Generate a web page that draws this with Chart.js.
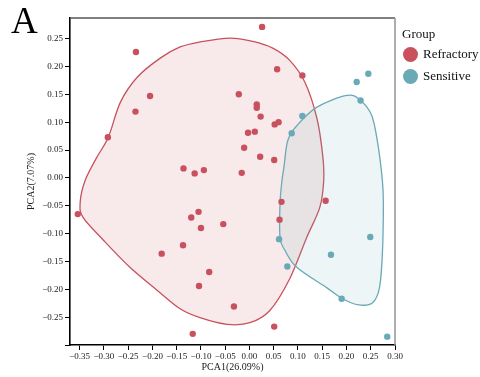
<!DOCTYPE html>
<html lang="en">
<head>
<meta charset="UTF-8">
<title>PCA</title>
<script src="https://cdn.jsdelivr.net/npm/chart.js"></script>
<style>
    body { margin: 0; padding: 0; background: #fff; font-family: "Liberation Serif", serif; }
    #wrap { position: relative; width: 480px; height: 377px; }
    canvas { position: absolute; left: 0; top: 0; }
    #panel { position: absolute; left: 11px; top: -1px; font-size: 37px; color: #000; }
    #legend { position: absolute; left: 402px; top: 26px; font-size: 13px; color: #111; }
    #legend .row { display: flex; align-items: center; height: 22px; }
    #legend .dot { width: 15px; height: 15px; border-radius: 50%; margin-right: 5px; margin-left: 1px; }
</style>
</head>
<body>
<div id="wrap">
    <canvas id="pca" width="480" height="377"></canvas>
    <div id="panel">A</div>
    <div id="legend">
        <div style="margin-bottom:1px">Group</div>
        <div class="row"><span class="dot" style="background:#C8515D"></span>Refractory</div>
        <div class="row"><span class="dot" style="background:#6AAAB7"></span>Sensitive</div>
    </div>
</div>
<script>
    // sample scores
    const refractoryX = [-0.234, -0.205, -0.235, -0.292, 0.026, 0.057, -0.022, 0.015, 0.015, 0.023, 0.052, 0.060,
        -0.003, 0.011, -0.011, 0.022, 0.051, -0.136, -0.113, -0.094, -0.016, 0.109, -0.354, -0.181,
        -0.105, -0.120, -0.100, -0.054, -0.137, -0.083, -0.104, -0.032, -0.117, 0.051, 0.066, 0.062, 0.157];
    const refractoryY = [0.226, 0.147, 0.119, 0.073, 0.271, 0.195, 0.150, 0.132, 0.126, 0.110, 0.096, 0.100,
        0.081, 0.083, 0.054, 0.038, 0.032, 0.017, 0.008, 0.014, 0.009, 0.184, -0.065, -0.136,
        -0.061, -0.071, -0.090, -0.083, -0.121, -0.169, -0.194, -0.231, -0.280, -0.267, -0.043, -0.075, -0.041];
    const sensitiveX = [0.221, 0.245, 0.229, 0.109, 0.087, 0.061, 0.078, 0.249, 0.168, 0.190, 0.284];
    const sensitiveY = [0.172, 0.187, 0.139, 0.111, 0.080, -0.110, -0.159, -0.106, -0.138, -0.217, -0.285];

    // hull outlines (data units)
    const refractoryHullX = [-0.040, 0.007, 0.048, 0.083, 0.114, 0.139, 0.151, 0.153, 0.145, 0.118, 0.083, 0.042,
        0.001, -0.046, -0.102, -0.143, -0.190, -0.246, -0.301, -0.343, -0.349, -0.339, -0.316, -0.291,
        -0.266, -0.231, -0.184, -0.143, -0.102];
    const refractoryHullY = [0.251, 0.245, 0.233, 0.211, 0.172, 0.107, 0.040, -0.005, -0.053, -0.107, -0.181, -0.238,
        -0.260, -0.263, -0.251, -0.235, -0.202, -0.161, -0.112, -0.071, -0.044, -0.005, 0.035, 0.073,
        0.136, 0.181, 0.215, 0.235, 0.244];
    const sensitiveHullX = [0.201, 0.229, 0.252, 0.264, 0.274, 0.276, 0.274, 0.268, 0.254, 0.225, 0.192, 0.159,
        0.098, 0.073, 0.063, 0.063, 0.067, 0.071, 0.079, 0.098, 0.139];
    const sensitiveHullY = [0.148, 0.139, 0.112, 0.064, -0.005, -0.046, -0.136, -0.197, -0.224, -0.228, -0.217, -0.197,
        -0.161, -0.130, -0.107, -0.046, -0.005, 0.019, 0.067, 0.094, 0.127];

    const xTicks = [-0.35, -0.30, -0.25, -0.20, -0.15, -0.10, -0.05, 0.00, 0.05, 0.10, 0.15, 0.20, 0.25, 0.30];
    const yTicks = [-0.30, -0.25, -0.20, -0.15, -0.10, -0.05, 0.00, 0.05, 0.10, 0.15, 0.20, 0.25];

    const RED = '#C8515D';
    const TEAL = '#6AAAB7';

    const toPoints = (xs, ys) => xs.map((x, i) => ({ x: x, y: ys[i] }));
    const fmt = v => (v < 0 ? '\u2212' : '') + Math.abs(v).toFixed(2);

    const hulls = [
        { xs: refractoryHullX, ys: refractoryHullY, stroke: RED, fill: 'rgba(200,81,93,0.12)' },
        { xs: sensitiveHullX, ys: sensitiveHullY, stroke: TEAL, fill: 'rgba(106,170,183,0.12)' }
    ];

    // closed catmull-rom outline through the hull vertices
    const hullPlugin = {
        id: 'hulls',
        beforeDatasetsDraw(chart) {
            const { ctx, scales: { x, y } } = chart;
            hulls.forEach(h => {
                const p = h.xs.map((v, i) => [x.getPixelForValue(v), y.getPixelForValue(h.ys[i])]);
                const n = p.length;
                ctx.save();
                ctx.beginPath();
                ctx.moveTo(p[0][0], p[0][1]);
                for (let i = 0; i < n; i++) {
                    const p0 = p[(i - 1 + n) % n], p1 = p[i], p2 = p[(i + 1) % n], p3 = p[(i + 2) % n];
                    ctx.bezierCurveTo(
                        p1[0] + (p2[0] - p0[0]) / 6, p1[1] + (p2[1] - p0[1]) / 6,
                        p2[0] - (p3[0] - p1[0]) / 6, p2[1] - (p3[1] - p1[1]) / 6,
                        p2[0], p2[1]);
                }
                ctx.closePath();
                ctx.fillStyle = h.fill;
                ctx.fill();
                ctx.lineWidth = 1.3;
                ctx.strokeStyle = h.stroke;
                ctx.stroke();
                ctx.restore();
            });
        },
        afterDraw(chart) {
            const { ctx, chartArea: a } = chart;
            ctx.save();
            ctx.lineWidth = 1.3;
            ctx.strokeStyle = '#555';
            ctx.beginPath();
            ctx.moveTo(a.left, a.top);
            ctx.lineTo(a.right, a.top);
            ctx.stroke();
            ctx.strokeStyle = '#999';
            ctx.lineWidth = 1.6;
            ctx.beginPath();
            ctx.moveTo(a.right, a.top);
            ctx.lineTo(a.right, a.bottom);
            ctx.stroke();
            ctx.restore();
        }
    };

    const tickFont = { family: 'Liberation Serif', size: 9 };
    const titleFont = { family: 'Liberation Serif', size: 10 };

    new Chart(document.getElementById('pca'), {
        type: 'scatter',
        data: {
            datasets: [
                { label: 'Refractory', data: toPoints(refractoryX, refractoryY), backgroundColor: RED, borderWidth: 0, pointRadius: 3.2 },
                { label: 'Sensitive', data: toPoints(sensitiveX, sensitiveY), backgroundColor: TEAL, borderWidth: 0, pointRadius: 3.2 }
            ]
        },
        options: {
            responsive: false,
            animation: false,
            layout: { padding: { left: 0, right: 85, top: 18, bottom: 0 } },
            plugins: { legend: { display: false }, tooltip: { enabled: false } },
            scales: {
                x: {
                    type: 'linear',
                    min: -0.37,
                    max: 0.30,
                    afterBuildTicks: s => { s.ticks = xTicks.map(v => ({ value: v })); },
                    afterFit: s => { s.height = 32; },
                    ticks: { font: tickFont, color: '#222', padding: 1, autoSkip: false, maxRotation: 0, callback: v => fmt(v) },
                    grid: { drawOnChartArea: false, drawTicks: true, tickLength: 5, color: '#000', tickWidth: 1 },
                    border: { display: true, color: '#000', width: 1.6 },
                    title: { display: true, text: 'PCA1(26.09%)', font: titleFont, color: '#222', padding: { top: 0, bottom: 4 } }
                },
                y: {
                    type: 'linear',
                    min: -0.30,
                    max: 0.287,
                    afterBuildTicks: s => { s.ticks = yTicks.map(v => ({ value: v })); },
                    afterFit: s => { s.width = 70; },
                    ticks: { font: tickFont, color: '#222', padding: 2, autoSkip: false, callback: v => (v < -0.29 ? '' : fmt(v)) },
                    grid: { drawOnChartArea: false, drawTicks: true, tickLength: 5, color: '#000', tickWidth: 1 },
                    border: { display: true, color: '#000', width: 1.6 },
                    title: { display: true, text: 'PCA2(7.07%)', font: titleFont, color: '#222', padding: { top: 25, bottom: 0 } }
                }
            }
        },
        plugins: [hullPlugin]
    });
</script>
</body>
</html>
